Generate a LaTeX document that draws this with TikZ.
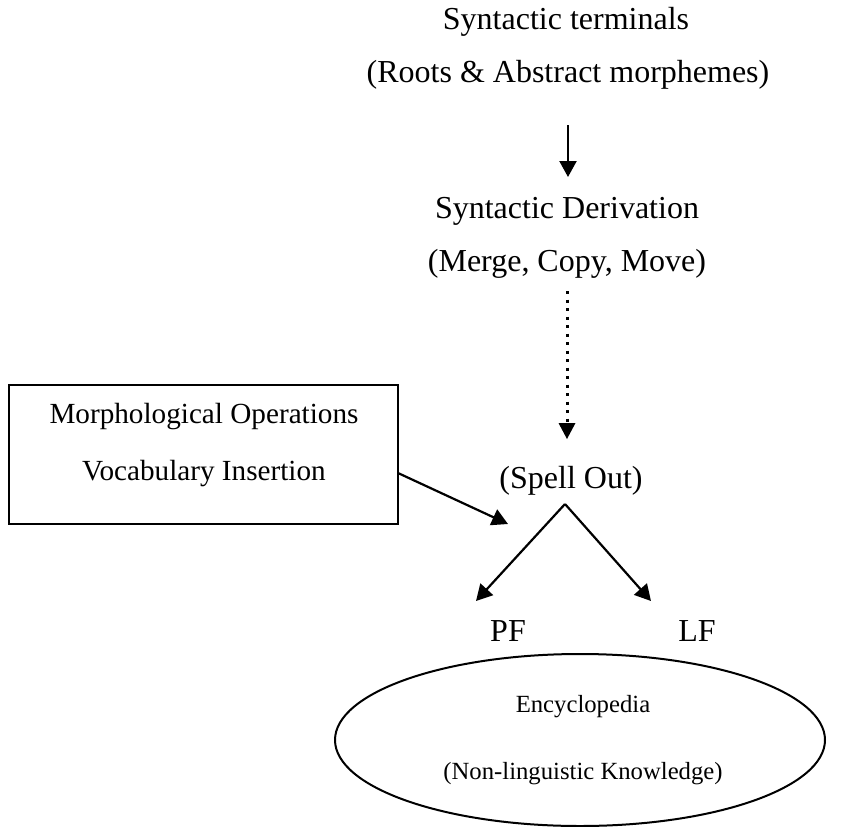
\documentclass[tikz,border=0pt]{standalone}
\usepackage{fontspec}
\setmainfont{Liberation Serif}
\usetikzlibrary{shapes.geometric,arrows.meta}
\begin{document}
\begin{tikzpicture}[x=1pt,y=-1pt,
  lbl/.style={anchor=base,inner sep=0pt,font=\fontsize{32}{38}\selectfont},
  boxlbl/.style={anchor=base,inner sep=0pt,font=\fontsize{29.2}{35}\selectfont},
  elllbl/.style={anchor=base,inner sep=0pt,font=\fontsize{24.7}{30}\selectfont},
  conn/.style={line width=2.2pt,-{Triangle[length=16pt,width=17pt]}},
  dotconn/.style={line width=3pt,dash pattern=on 3pt off 5.5pt,
     -{Triangle[length=16pt,width=17pt,line width=0pt]}},
  shapeline/.style={draw,line width=2pt}]
\useasboundingbox (0,0) rectangle (862,827);
\node[lbl] (term) at (566,29) {Syntactic terminals};
\node[lbl] (roots) at (568,82) {(Roots \& Abstract morphemes)};
\node[lbl] (deriv) at (567,218) {Syntactic Derivation};
\node[lbl] (ops) at (567,271) {(Merge, Copy, Move)};
\node[lbl] (spell) at (571,488) {(Spell Out)};
\node[lbl] (pf) at (508,641) {PF};
\node[lbl] (lf) at (697,641) {LF};
\node[shapeline,minimum width=389pt,minimum height=139pt,inner sep=0pt] (box) at (203.5,454.5) {};
\node[boxlbl] (morph) at (204,423) {Morphological Operations};
\node[boxlbl] (vocab) at (204,480) {Vocabulary Insertion};
\node[shapeline,ellipse,minimum width=490pt,minimum height=172pt,inner sep=0pt] (ency) at (580,740) {};
\node[elllbl] (enc1) at (583,712) {Encyclopedia};
\node[elllbl] (enc2) at (583,779) {(Non-linguistic Knowledge)};
\coordinate (a1s) at (568,125);
\coordinate (a1e) at (568,177);
\coordinate (a2s) at (567,291);
\coordinate (a2e) at (567,439);
\coordinate (a3s) at (398,473);
\coordinate (a3e) at (508,524);
\coordinate (apex) at (565,504);
\coordinate (pft) at (476,601);
\coordinate (lft) at (651,601);
\draw[conn] (a1s) -- (a1e);
\draw[dotconn] (a2s) -- (a2e);
\draw[conn] (a3s) -- (a3e);
\draw[conn] (apex) -- (pft);
\draw[conn] (apex) -- (lft);
\end{tikzpicture}
\end{document}
